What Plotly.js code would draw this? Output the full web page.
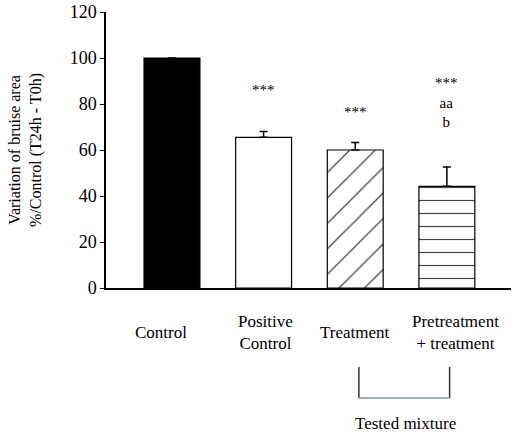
<!DOCTYPE html>
<html>
<head>
<meta charset="utf-8">
<script src="https://cdn.plot.ly/plotly-3.0.1.min.js"></script>
<style>
  html, body { margin: 0; padding: 0; background: #fff; }
  #grafico { width: 520px; height: 434px; }
</style>
</head>
<body>
<div id="grafico"></div>
<script>
// dados
let grupos = ['Control', 'Positive<br>Control', 'Treatment', 'Pretreatment<br>+ treatment'];
let valores = [100, 65.5, 60, 44.2];
let erros = [0, 2.5, 3.3, 8.4];
let semErro = [0, 0, 0, 0];
let signif = ['', '***', '***', '***<br>aa<br>b'];
let padroes = ['', '', '/', '-'];
let cores = ['#000000', '#ffffff', '#ffffff', '#ffffff'];

let fonte = "'Liberation Serif', 'Times New Roman', serif";
let idx = grupos.map((g, i) => i);

// barras
let trace1 = {
  x: idx,
  y: valores,
  type: 'bar',
  width: 0.61,
  marker: {
    color: cores,
    line: { color: '#000', width: 1.2 },
    pattern: {
      shape: padroes,
      size: [8, 8, 18, 13],
      solidity: [0.1, 0.1, 0.07, 0.09],
      fgcolor: '#000',
      fgopacity: 1,
      fillmode: 'overlay'
    }
  },
  error_y: {
    type: 'data', symmetric: false, array: erros, arrayminus: semErro,
    color: '#000', thickness: 1.5, width: 4
  },
  hoverinfo: 'none'
};

// anotacoes: asteriscos e nomes dos grupos
let anot = [];
let ySig = [0, 86, 76.5, 80.5];
signif.forEach(function (s, i) {
  if (s) {
    anot.push({ x: i, y: ySig[i], xref: 'x', yref: 'y', text: s, showarrow: false,
      font: { family: fonte, size: 15, color: '#000' }, yanchor: 'middle' });
  }
});
let desloc = [-11, 2, 0, 9];
grupos.forEach(function (g, i) {
  anot.push({ x: i, y: -0.16, xref: 'x', yref: 'paper', text: g, showarrow: false, xshift: desloc[i],
    font: { family: fonte, size: 17, color: '#000' }, yanchor: 'middle' });
});
anot.push({ x: 2.55, y: -0.49, xref: 'x', yref: 'paper', text: 'Tested mixture', showarrow: false,
  font: { family: fonte, size: 17, color: '#000' }, yanchor: 'middle' });

let layout = {
  width: 520,
  height: 434,
  margin: { l: 106, r: 9, t: 12, b: 146 },
  paper_bgcolor: '#fff',
  plot_bgcolor: '#fff',
  showlegend: false,
  font: { family: fonte, color: '#000' },
  xaxis: {
    range: [-0.72, 3.7],
    showticklabels: false,
    ticks: '',
    showgrid: false,
    zeroline: false,
    showline: true,
    linecolor: '#000',
    linewidth: 1.5,
    fixedrange: true
  },
  yaxis: {
    range: [0, 120],
    dtick: 20,
    ticks: 'outside',
    ticklen: 4,
    tickcolor: '#000',
    showgrid: false,
    zeroline: false,
    showline: true,
    linecolor: '#000',
    linewidth: 1.5,
    tickfont: { family: fonte, size: 18, color: '#000' },
    title: {
      text: 'Variation of bruise area<br>%/Control (T24h - T0h)',
      font: { family: fonte, size: 16, color: '#000' },
      standoff: 24
    },
    fixedrange: true
  },
  shapes: [
    { type: 'line', xref: 'x', yref: 'paper', x0: 2.04, x1: 2.04, y0: -0.286, y1: -0.399, line: { color: '#333', width: 1.5 } },
    { type: 'line', xref: 'x', yref: 'paper', x0: 3.03, x1: 3.03, y0: -0.286, y1: -0.399, line: { color: '#333', width: 1.5 } },
    { type: 'line', xref: 'x', yref: 'paper', x0: 2.04, x1: 3.03, y0: -0.399, y1: -0.399, line: { color: '#7f92a8', width: 1.5 } }
  ],
  annotations: anot
};

Plotly.newPlot('grafico', [trace1], layout, { displayModeBar: false });
</script>
</body>
</html>
